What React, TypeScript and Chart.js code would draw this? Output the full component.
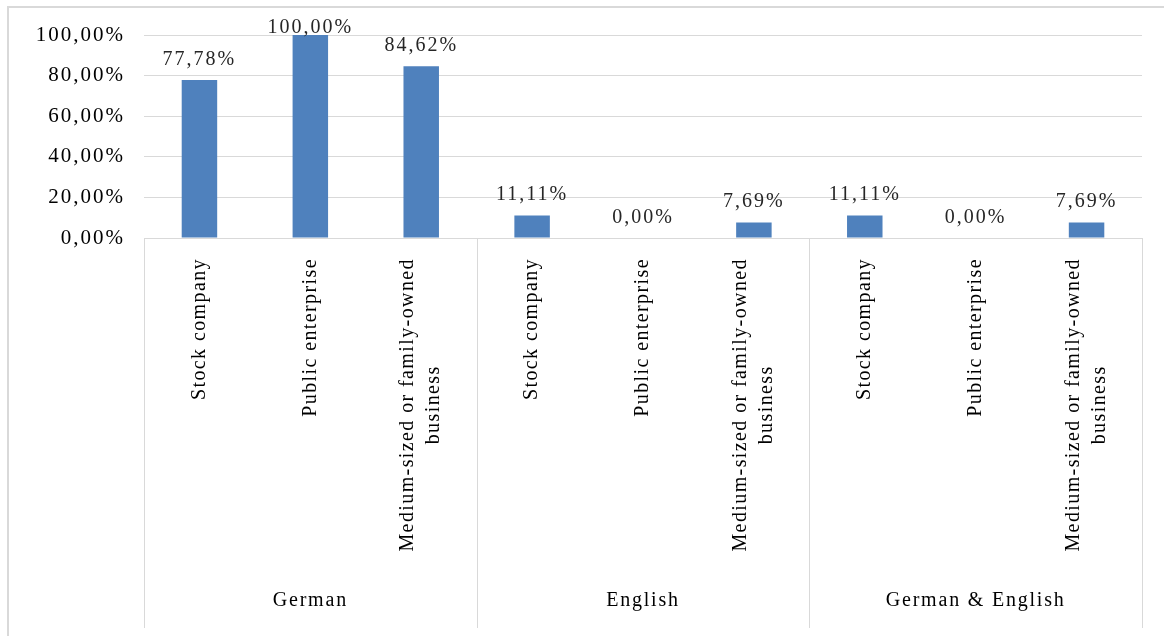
import React, { useEffect, useRef } from 'react';
import { Chart, registerables } from 'chart.js';

Chart.register(...registerables);

const groups: string[] = ['German', 'English', 'German & English'];
const businessTypes: string[][] = [
  ['Stock company'],
  ['Public enterprise'],
  ['Medium-sized or family-owned', 'business'],
];
const categoryLabels: string[][] = groups.flatMap(() => businessTypes);
const shareValues: number[] = [77.78, 100, 84.62, 11.11, 0, 7.69, 11.11, 0, 7.69];
const yMax = 100;
const yStep = 20;

const FONT = '"Liberation Serif", "Times New Roman", Times, serif';
const fmt = (v: number) => v.toFixed(2).replace('.', ',') + '%';

const overlay = {
  id: 'overlay',
  beforeUpdate(chart: any) {
    chart.ctx.letterSpacing = '2px';
  },
  beforeDraw(chart: any) {
    chart.ctx.letterSpacing = '2px';
  },
  afterDraw(chart: any) {
    const ctx: CanvasRenderingContext2D = chart.ctx;
    const x = chart.scales.x;
    const n = categoryLabels.length;
    const per = n / groups.length;
    const boundary = (i: number) =>
      i === 0 ? x.left : i === n ? x.right : (x.getPixelForValue(i - 1) + x.getPixelForValue(i)) / 2;

    ctx.save();
    // group separators
    ctx.strokeStyle = '#d9d9d9';
    ctx.lineWidth = 1;
    for (let g = 0; g <= groups.length; g++) {
      const px = Math.round(boundary(g * per)) + 0.5;
      ctx.beginPath();
      ctx.moveTo(px, x.top);
      ctx.lineTo(px, x.bottom);
      ctx.stroke();
    }

    // rotated category labels
    ctx.font = `20px ${FONT}`;
    (ctx as any).letterSpacing = '1.4px';
    ctx.fillStyle = '#000';
    categoryLabels.forEach((lines, i) => {
      const px = x.getPixelForValue(i);
      const w = Math.max(...lines.map((l) => ctx.measureText(l).width));
      const cy = x.top + 20 + w / 2;
      lines.forEach((line, j) => {
        ctx.save();
        ctx.translate(px + (j - (lines.length - 1) / 2) * 26, cy);
        ctx.rotate(-Math.PI / 2);
        ctx.textAlign = 'center';
        ctx.textBaseline = 'middle';
        ctx.fillText(line, 0, 0);
        ctx.restore();
      });
    });

    // group labels
    (ctx as any).letterSpacing = '1.8px';
    ctx.textAlign = 'center';
    ctx.textBaseline = 'middle';
    groups.forEach((g, gi) => {
      const cx = (boundary(gi * per) + boundary((gi + 1) * per)) / 2;
      ctx.fillText(g, cx, x.bottom - 27);
    });

    // data labels
    (ctx as any).letterSpacing = '2px';
    ctx.fillStyle = '#262626';
    ctx.textBaseline = 'alphabetic';
    const meta = chart.getDatasetMeta(0);
    meta.data.forEach((bar: any, i: number) => {
      const yy = Math.max(bar.y - 15, chart.chartArea.top - 2);
      ctx.fillText(fmt(shareValues[i]), bar.x, yy);
    });
    ctx.restore();
  },
};

export default function App() {
  const canvasRef = useRef<HTMLCanvasElement | null>(null);

  useEffect(() => {
    if (!canvasRef.current) return;
    const chart = new Chart(canvasRef.current, {
      type: 'bar',
      data: {
        labels: categoryLabels.map((l) => l.join(' ')),
        datasets: [
          {
            data: shareValues,
            backgroundColor: '#4f81bd',
            borderColor: '#5b8cc6',
            borderWidth: 0,
            barPercentage: 0.32,
            categoryPercentage: 1,
          },
        ],
      },
      options: {
        animation: false,
        responsive: true,
        maintainAspectRatio: false,
        layout: { padding: { left: 0, right: 22, top: 27, bottom: 8 } },
        plugins: { legend: { display: false }, tooltip: { enabled: false } },
        scales: {
          x: {
            grid: { display: false },
            border: { display: true, color: '#d9d9d9', width: 1 },
            ticks: { display: false },
            afterFit: (scale: any) => {
              scale.height = 390;
            },
          },
          y: {
            min: 0,
            max: yMax,
            grid: { color: '#d9d9d9', drawTicks: false },
            border: { display: false },
            ticks: {
              stepSize: yStep,
              padding: 19,
              color: '#000',
              font: { family: FONT, size: 21 },
              callback: (v: any) => fmt(Number(v)),
            },
            afterFit: (scale: any) => {
              scale.width = 135;
              scale.paddingTop = 0;
              scale.paddingBottom = 0;
            },
          },
        },
      },
      plugins: [overlay],
    });
    return () => chart.destroy();
  }, []);

  return (
    <div
      style={{
        position: 'fixed',
        left: 7,
        top: 6,
        width: 1157,
        height: 630,
        boxSizing: 'border-box',
        borderTop: '2px solid #d9d9d9',
        borderLeft: '2px solid #d9d9d9',
        background: '#fff',
      }}
    >
      <div style={{ position: 'relative', width: '100%', height: '100%' }}>
        <canvas ref={canvasRef} />
      </div>
    </div>
  );
}
